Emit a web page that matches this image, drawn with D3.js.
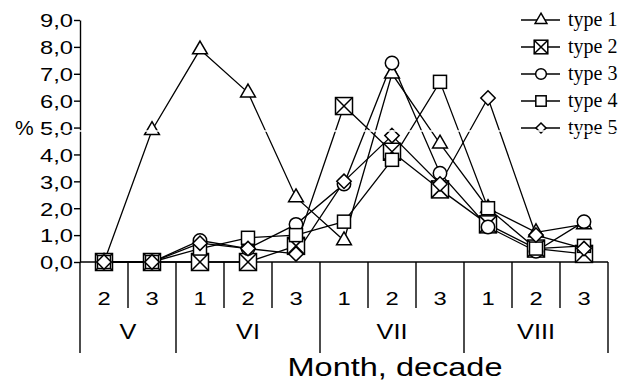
<!DOCTYPE html>
<html>
<head>
<meta charset="utf-8">
<script src="https://cdn.jsdelivr.net/npm/d3@7"></script>
<style>
  body { margin: 0; background: #fff; }
  svg { display: block; }
</style>
</head>
<body>
<script>
// month / decade categories
const months = ["V", "VI", "VII", "VIII"];
const monthDecades = [["2", "3"], ["1", "2", "3"], ["1", "2", "3"], ["1", "2", "3"]];
const yTicks = [0, 1, 2, 3, 4, 5, 6, 7, 8, 9];

// series values, %
const type1 = [0, 4.9, 7.9, 6.3, 2.4, 0.8, 7.0, 4.4, 2.0, 1.1, 1.4];
const type2 = [0, 0, 0, 0, 0.6, 5.8, 4.1, 2.7, 1.4, 0.5, 0.3];
const type3 = [0, 0, 0.8, 0.5, 1.4, 2.9, 7.4, 3.3, 1.3, 0.4, 1.5];
const type4 = [0, 0, 0.5, 0.9, 1.0, 1.5, 3.8, 6.7, 2.0, 0.5, 0.6];
const type5 = [0, 0, 0.7, 0.5, 0.3, 3.0, 4.7, 2.9, 6.1, 1.0, 0.5];
const seriesNames = ["type 1", "type 2", "type 3", "type 4", "type 5"];
const seriesMarks = ["triangle", "xbox", "circle", "square", "diamond"];

const series = [type1, type2, type3, type4, type5].map((values, i) => ({
  name: seriesNames[i], mark: seriesMarks[i], values: values
}));

const cats = [];
months.forEach((m, i) => monthDecades[i].forEach(d => cats.push(m + "-" + d)));

const margin = {top: 20, right: 12, bottom: 119, left: 80};
const width = 620, height = 381;
const sans = "'Liberation Sans', Arial, sans-serif";
const stretch = 1.25;

const svg = d3.select("body").append("svg")
  .attr("width", width)
  .attr("height", height);

const x = d3.scaleBand()
  .domain(cats)
  .range([margin.left, width - margin.right]);

const y = d3.scaleLinear()
  .domain([0, 9])
  .range([height - margin.bottom, margin.top]);

const y0 = y(0);
const cx = d => x(d) + x.bandwidth() / 2;

// y axis
const yAxisG = svg.append("g")
  .attr("transform", `translate(${margin.left},0)`)
  .call(d3.axisLeft(y)
    .tickValues(yTicks)
    .tickSize(6)
    .tickSizeOuter(0)
    .tickFormat(d => d3.format(".1f")(d).replace(".", ",")));

yAxisG.select(".domain").attr("stroke", "#000").attr("stroke-width", 1.4);
yAxisG.selectAll(".tick line").attr("stroke", "#000").attr("stroke-width", 1.4);
yAxisG.selectAll(".tick text")
  .attr("font-family", sans)
  .attr("font-size", 19)
  .attr("fill", "#000")
  .attr("x", -7 / stretch)
  .attr("dy", "0.36em")
  .attr("transform", `scale(${stretch},1)`);

svg.append("text")
  .attr("transform", `translate(15,${y(5)}) scale(1.05,1)`)
  .attr("dy", "0.36em")
  .attr("font-family", sans)
  .attr("font-size", 20)
  .text("%");

// x axis: baseline and category table
const grid = svg.append("g").attr("stroke", "#000").attr("stroke-width", 1.4);
grid.append("line")
  .attr("x1", margin.left).attr("x2", width - margin.right)
  .attr("y1", y0).attr("y2", y0);

let idx = 0;
const monthEdges = [0];
monthDecades.forEach(d => { idx += d.length; monthEdges.push(idx); });

d3.range(cats.length + 1).forEach(i => {
  const xx = i < cats.length ? x(cats[i]) : x.range()[1];
  const isMonth = monthEdges.includes(i);
  grid.append("line")
    .attr("x1", xx).attr("x2", xx)
    .attr("y1", y0).attr("y2", isMonth ? 353 : 308);
});

svg.append("g").selectAll("text")
  .data(cats)
  .join("text")
  .attr("transform", d => `translate(${cx(d)},305) scale(${stretch},1)`)
  .attr("text-anchor", "middle")
  .attr("font-family", sans)
  .attr("font-size", 19)
  .text(d => d.split("-")[1]);

svg.append("g").selectAll("text")
  .data(months)
  .join("text")
  .attr("transform", (m, i) => {
    const first = cats[monthEdges[i]], last = cats[monthEdges[i + 1] - 1];
    const mid = (x(first) + x(last) + x.bandwidth()) / 2;
    return `translate(${mid},339) scale(1.15,1)`;
  })
  .attr("text-anchor", "middle")
  .attr("font-family", sans)
  .attr("font-size", 22)
  .text(d => d);

svg.append("text")
  .attr("transform", `translate(395,376) scale(${stretch},1)`)
  .attr("text-anchor", "middle")
  .attr("font-family", sans)
  .attr("font-size", 26)
  .text("Month, decade");

// markers
function drawMark(g, mark, s) {
  g.attr("fill", "#fff").attr("stroke", "#000").attr("stroke-width", 1.5);
  if (mark === "triangle") {
    g.append("path").attr("d", d3.symbol(d3.symbolTriangle, 95 * s * s)());
  } else if (mark === "circle") {
    g.append("circle").attr("r", 6.7 * s);
  } else if (mark === "square") {
    const h = 6.5 * s;
    g.append("rect").attr("x", -h).attr("y", -h).attr("width", 2 * h).attr("height", 2 * h);
  } else if (mark === "xbox") {
    const h = 8.5 * s;
    g.append("rect").attr("x", -h).attr("y", -h).attr("width", 2 * h).attr("height", 2 * h);
    g.append("path").attr("d", `M${-h},${-h}L${h},${h}M${h},${-h}L${-h},${h}`);
  } else if (mark === "diamond") {
    const h = 7.2 * s;
    g.append("path").attr("d", `M0,${-h}L${h},0L0,${h}L${-h},0Z`);
  }
}

const line = d3.line()
  .x((d, i) => cx(cats[i]))
  .y(d => y(d));

svg.append("g").selectAll("path")
  .data(series)
  .join("path")
  .attr("d", d => line(d.values))
  .attr("fill", "none")
  .attr("stroke", "#000")
  .attr("stroke-width", 1.3);

series.forEach(s => {
  s.values.forEach((v, i) => {
    const g = svg.append("g").attr("transform", `translate(${cx(cats[i])},${y(v)})`);
    drawMark(g, s.mark, 1);
  });
});

// legend
const legend = svg.append("g");
series.forEach((s, i) => {
  const ly = 20 + i * 27;
  const row = legend.append("g").attr("transform", `translate(521,${ly})`);
  row.append("line").attr("x1", 0).attr("x2", 39).attr("stroke", "#000").attr("stroke-width", 1.5);
  drawMark(row.append("g").attr("transform", "translate(20,0)"), s.mark, s.mark === "diamond" ? 0.7 : 0.8);
  row.append("text")
    .attr("x", 47)
    .attr("dy", "0.32em")
    .attr("font-family", "'Liberation Serif', 'Times New Roman', serif")
    .attr("font-size", 20)
    .text(s.name);
});

// thin white scan gap crossing the figure
svg.append("line")
  .attr("x1", 40).attr("x2", width)
  .attr("y1", 131).attr("y2", 131)
  .attr("stroke", "#fff").attr("stroke-width", 1.5);
</script>
</body>
</html>
